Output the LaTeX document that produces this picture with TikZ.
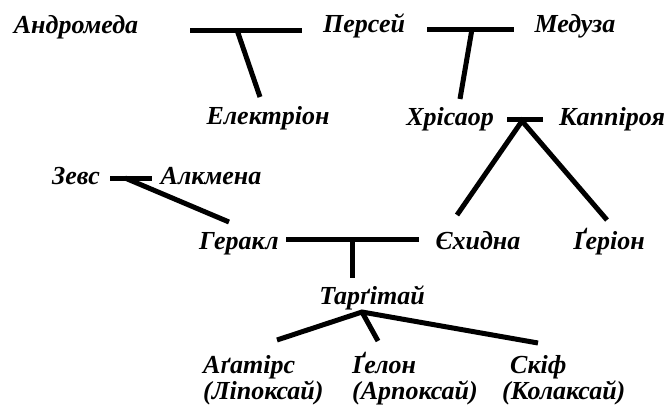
\documentclass[tikz,border=0pt]{standalone}
\usepackage{fontspec}
\newfontfamily\myfont{Liberation Serif Bold Italic}
\begin{document}
\begin{tikzpicture}[x=1pt,y=-1pt,
  person/.style={font=\fontsize{26}{26}\selectfont\myfont, inner sep=0pt, anchor=base},
  kid/.style={font=\fontsize{26}{26}\selectfont\myfont, inner sep=0pt, anchor=north west, align=left},
  link/.style={line width=5pt}]
\useasboundingbox (0,0) rectangle (672,410);
% names
\node[person] (andr) at (76,33) {Андромеда};
\node[person] (pers) at (364,32) {Персей};
\node[person] (medu) at (575,32) {Медуза};
\node[person] (elek) at (268,124) {Електріон};
\node[person] (hris) at (450,125) {Хрісаор};
\node[person] (kapp) at (612,125) {Каппіроя};
\node[person] (zevs) at (76,184) {Зевс};
\node[person] (alkm) at (211,184) {Алкмена};
\node[person] (hera) at (239,249) {Геракл};
\node[person] (ehid) at (478,249) {Єхидна};
\node[person] (geri) at (609,249) {Ґеріон};
\node[person] (targ) at (372,304) {Тарґітай};
\node[kid] (agat) at (203,351) {\rule{0pt}{22pt}Аґатірс\\(Ліпоксай)};
\node[kid] (gelo) at (352,351) {\rule{0pt}{22pt}Ґелон\\(Арпоксай)};
\node[kid] (skif) at (502,351) {\rule{0pt}{22pt}\hspace*{8pt}Скіф\\(Колаксай)};
% junction points
\coordinate (m1a) at (190,30); \coordinate (m1b) at (302,30); \coordinate (m1c) at (237,30);
\coordinate (c1) at (260,97);
\coordinate (m2a) at (427,29); \coordinate (m2b) at (514,29); \coordinate (m2c) at (472,29);
\coordinate (c2) at (460,99);
\coordinate (m3a) at (507,119); \coordinate (m3b) at (543,119); \coordinate (m3c) at (522,121);
\coordinate (c3a) at (457,215); \coordinate (c3b) at (607,220);
\coordinate (m4a) at (110,178); \coordinate (m4b) at (152,178); \coordinate (m4c) at (125,178);
\coordinate (c4) at (229,222);
\coordinate (m5a) at (286,239); \coordinate (m5b) at (419,239); \coordinate (m5c) at (352,239);
\coordinate (c5) at (352,278);
\coordinate (m6) at (362,312);
\coordinate (c6a) at (277,340); \coordinate (c6b) at (378,341); \coordinate (c6c) at (538,343);
% connectors
\draw[link] (m1a) -- (m1b); \draw[link] (m1c) -- (c1);
\draw[link] (m2a) -- (m2b); \draw[link] (m2c) -- (c2);
\draw[link] (m3a) -- (m3b); \draw[link] (c3a) -- (m3c) -- (c3b);
\draw[link] (m4a) -- (m4b); \draw[link] (m4c) -- (c4);
\draw[link] (m5a) -- (m5b); \draw[link] (m5c) -- (c5);
\draw[link] (c6a) -- (m6) -- (c6c); \draw[link] (m6) -- (c6b);
\end{tikzpicture}
\end{document}
